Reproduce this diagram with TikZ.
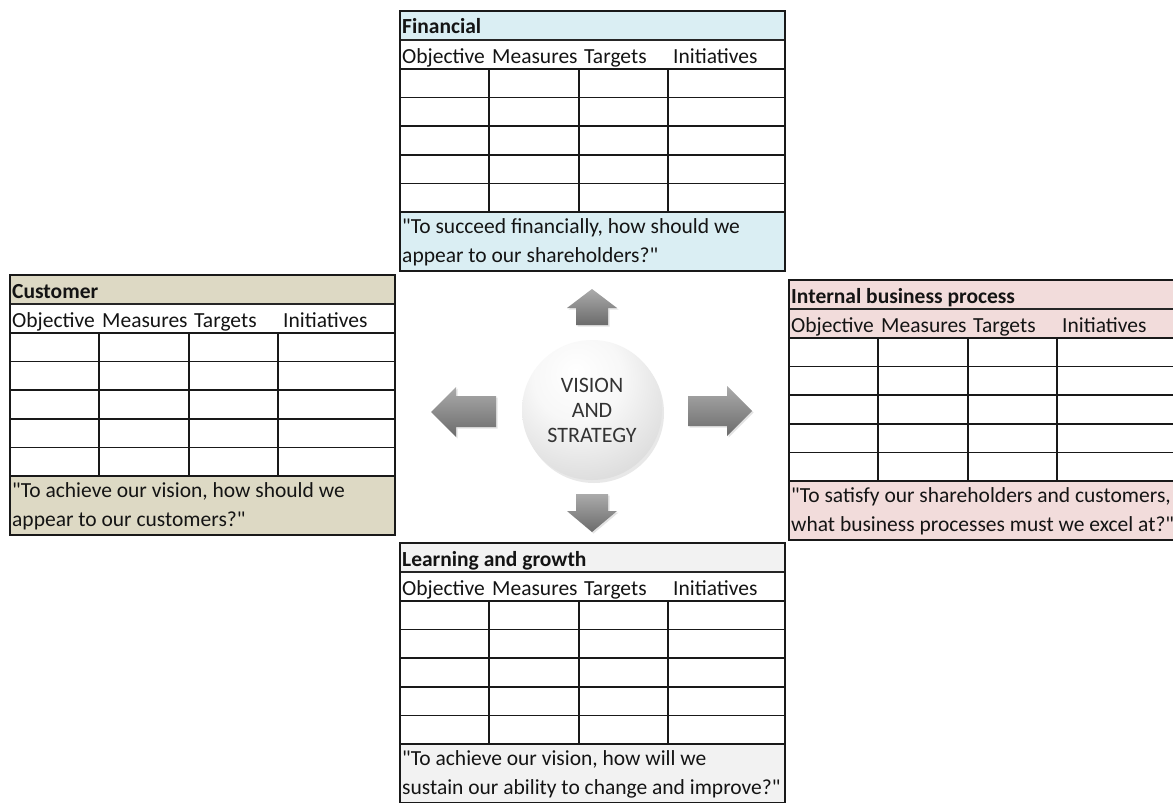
\documentclass[tikz,border=0pt]{standalone}
\usepackage{fontspec}
\setmainfont{Carlito}[Ligatures=TeXOff]
\usetikzlibrary{shadows}

\definecolor{finblue}{HTML}{DAEEF3}
\definecolor{custtan}{HTML}{DDD9C4}
\definecolor{procpink}{HTML}{F2DCDB}
\definecolor{learngray}{HTML}{F2F2F2}
\definecolor{inkgray}{HTML}{333333}

% soft grey ball for the centre disc, highlight towards the upper left
\pgfdeclareradialshading{visionball}{\pgfpoint{-6bp}{14bp}}{%
  color(0bp)=(white); color(16bp)=(white!97!black); color(38bp)=(white!85!black);
  color(50bp)=(white!74!black); color(100bp)=(white!74!black)}

\tikzset{
  frame/.style={draw=black!90, line width=2.2pt},
  gridline/.style={draw=black!90, line width=1.5pt},
  rowline/.style={draw=black!85, line width=1.1pt},
  celltext/.style={anchor=base west, inner sep=0pt, text=black!92,
    font=\fontsize{21.5}{25}\selectfont},
  titletext/.style={celltext, font=\fontsize{21.5}{25}\selectfont\bfseries},
  blockarrow/.style={top color=black!33, bottom color=black!58, draw=none,
    drop shadow={opacity=0.22, shadow xshift=1.5pt, shadow yshift=-1.5pt}},
}

% one perspective panel: #1 name, #2/#3 top-left corner, #4 title/footer fill,
% #5 header fill, #6 title, #7/#8 the two lines of the guiding question
\newcommand\scorecard[8]{%
\begin{scope}[shift={(#2,#3)}]
  \fill[#4] (0,0) rectangle (385,29);
  \fill[#5] (0,29) rectangle (385,58);
  \fill[white] (0,58) rectangle (385,201);
  \fill[#4] (0,201) rectangle (385,260);
  \draw[rowline] (0,29) -- (385,29);
  \foreach \r in {58,86.6,115.2,143.8,172.4,201} \draw[gridline] (0,\r) -- (385,\r);
  \foreach \c in {89,179,268} \draw[gridline] (\c,58) -- (\c,201);
  \draw[frame] (0,0) rectangle (385,260);
  \node[titletext] (#1-title) at (2,23) {#6};
  \node[celltext] (#1-obj) at (2,52) {Objective};
  \node[celltext] (#1-meas) at (92,52) {Measures};
  \node[celltext] (#1-targ) at (184,52) {Targets};
  \node[celltext] (#1-init) at (273,52) {Initiatives};
  \node[celltext] (#1-q1) at (2,222) {#7};
  \node[celltext] (#1-q2) at (2,251) {#8};
\end{scope}}

\begin{document}
\begin{tikzpicture}[x=1pt,y=-1pt]
  \useasboundingbox (0,0) rectangle (1173,803);
  \fill[white] (0,0) rectangle (1173,803);

  \scorecard{fin}{400}{11}{finblue}{white}{Financial}
    {"To succeed financially, how should we}{appear to our shareholders?"}
  \scorecard{cust}{10}{275}{custtan}{white}{Customer}
    {"To achieve our vision, how should we}{appear to our customers?"}
  \scorecard{proc}{789}{280}{procpink}{procpink}{Internal business process}
    {"To satisfy our shareholders and customers,}{what business processes must we excel at?"}
  \scorecard{learn}{400}{543}{learngray}{white}{Learning and growth}
    {"To achieve our vision, how will we}{sustain our ability to change and improve?"}

  % centre disc
  \node[circle, minimum size=140pt, inner sep=0pt, shading=visionball,
        drop shadow={opacity=0.18, shadow xshift=2pt, shadow yshift=-3pt},
        align=center, text=inkgray, font=\fontsize{22}{25}\selectfont]
        (vision) at (592,410) {VISION\\AND\\STRATEGY};

  % block arrows pointing to the four panels
  \path[blockarrow] (576,325) -- (576,308) -- (567,308) -- (592,289)
    -- (617,308) -- (608,308) -- (608,325) -- cycle;
  \path[blockarrow] (576,494) -- (576,511) -- (567,511) -- (592,532)
    -- (617,511) -- (608,511) -- (608,494) -- cycle;
  \path[blockarrow] (496,396) -- (456,396) -- (456,387) -- (431,412)
    -- (456,437) -- (456,427) -- (496,427) -- cycle;
  \path[blockarrow] (688,396) -- (727,396) -- (727,386) -- (752,411)
    -- (727,436) -- (727,426) -- (688,426) -- cycle;
\end{tikzpicture}
\end{document}
